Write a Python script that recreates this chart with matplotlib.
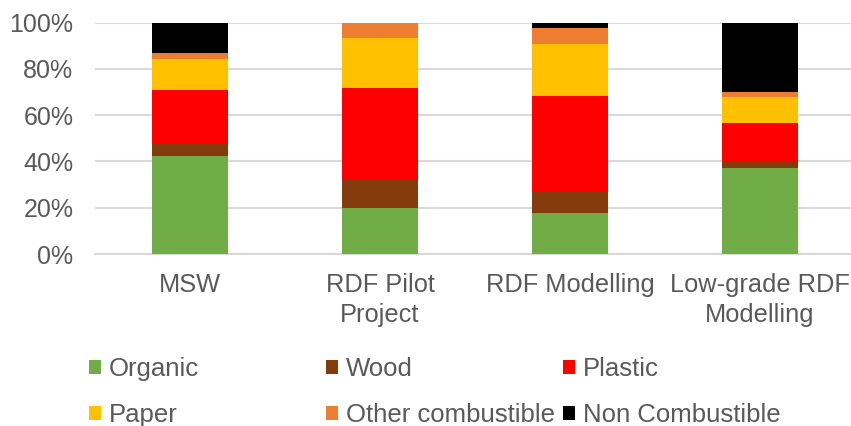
import matplotlib
matplotlib.use("Agg")
import matplotlib.pyplot as plt
import numpy as np

plt.rcParams['font.family'] = ['Liberation Sans', 'DejaVu Sans']

categories = ["MSW", "RDF Pilot\nProject", "RDF Modelling", "Low-grade RDF\nModelling"]
organic = [42.3, 19.7, 17.7, 37.3]
wood = [5.2, 12.6, 9.2, 2.9]
plastic = [23.6, 39.3, 41.2, 16.5]
paper = [13.0, 21.6, 22.6, 11.2]
other_combustible = [2.9, 6.8, 7.1, 2.2]
non_combustible = [13.0, 0.0, 2.2, 29.9]

series_names = ["Organic", "Wood", "Plastic", "Paper", "Other combustible", "Non Combustible"]
series_values = [organic, wood, plastic, paper, other_combustible, non_combustible]
colors = ["#70AD47", "#843C0C", "#FF0000", "#FFC000", "#ED7D31", "#000000"]

text_color = "#595959"
grid_color = "#D9D9D9"

fig = plt.figure(figsize=(8.51, 4.26), dpi=100)
ax = fig.add_axes([95 / 851, 1 - 254 / 426, 1 - 95 / 851, (254 - 22.7) / 426])

x = np.arange(len(categories))
bottom = np.zeros(len(categories))
handles = []
for name, vals, col in zip(series_names, series_values, colors):
    v = np.array(vals) / 100.0
    h = ax.bar(x, v, width=0.4, bottom=bottom, color=col, label=name, zorder=3)
    handles.append(h)
    bottom += v

ax.set_ylim(0, 1)
ax.set_xlim(-0.5, 3.5 - 4 / 190)
ax.set_yticks(np.linspace(0, 1, 6))
ax.set_yticklabels([f"{int(t)}%" for t in np.linspace(0, 100, 6)])
ax.set_xticks(x)
ax.set_xticklabels(categories, linespacing=1.3)
ax.tick_params(axis='y', length=0, pad=15.5, labelsize=18, labelcolor=text_color)
ax.tick_params(axis='x', length=0, pad=14, labelsize=18.3, labelcolor=text_color)
ax.yaxis.grid(True, color=grid_color, linewidth=1.5, zorder=0)
for side in ["top", "right", "left"]:
    ax.spines[side].set_visible(False)
ax.spines["bottom"].set_color(grid_color)
ax.spines["bottom"].set_linewidth(1.5)

# three legend columns at fixed positions, two entries each
columns = [(0, 3), (1, 4), (2, 5)]
col_x = [89 / 851, 325.5 / 851, 563 / 851]
for (i, j), cx in zip(columns, col_x):
    leg = fig.legend([handles[i], handles[j]], [series_names[i], series_names[j]],
                     loc="upper left", bbox_to_anchor=(cx, 1 - 357 / 426),
                     frameon=False, fontsize=18.5, handlelength=0.48, handleheight=0.48,
                     handletextpad=0.3, labelspacing=0.85, borderaxespad=0, borderpad=0)
    for t in leg.get_texts():
        t.set_color(text_color)

fig.savefig("out.png", dpi=100)
